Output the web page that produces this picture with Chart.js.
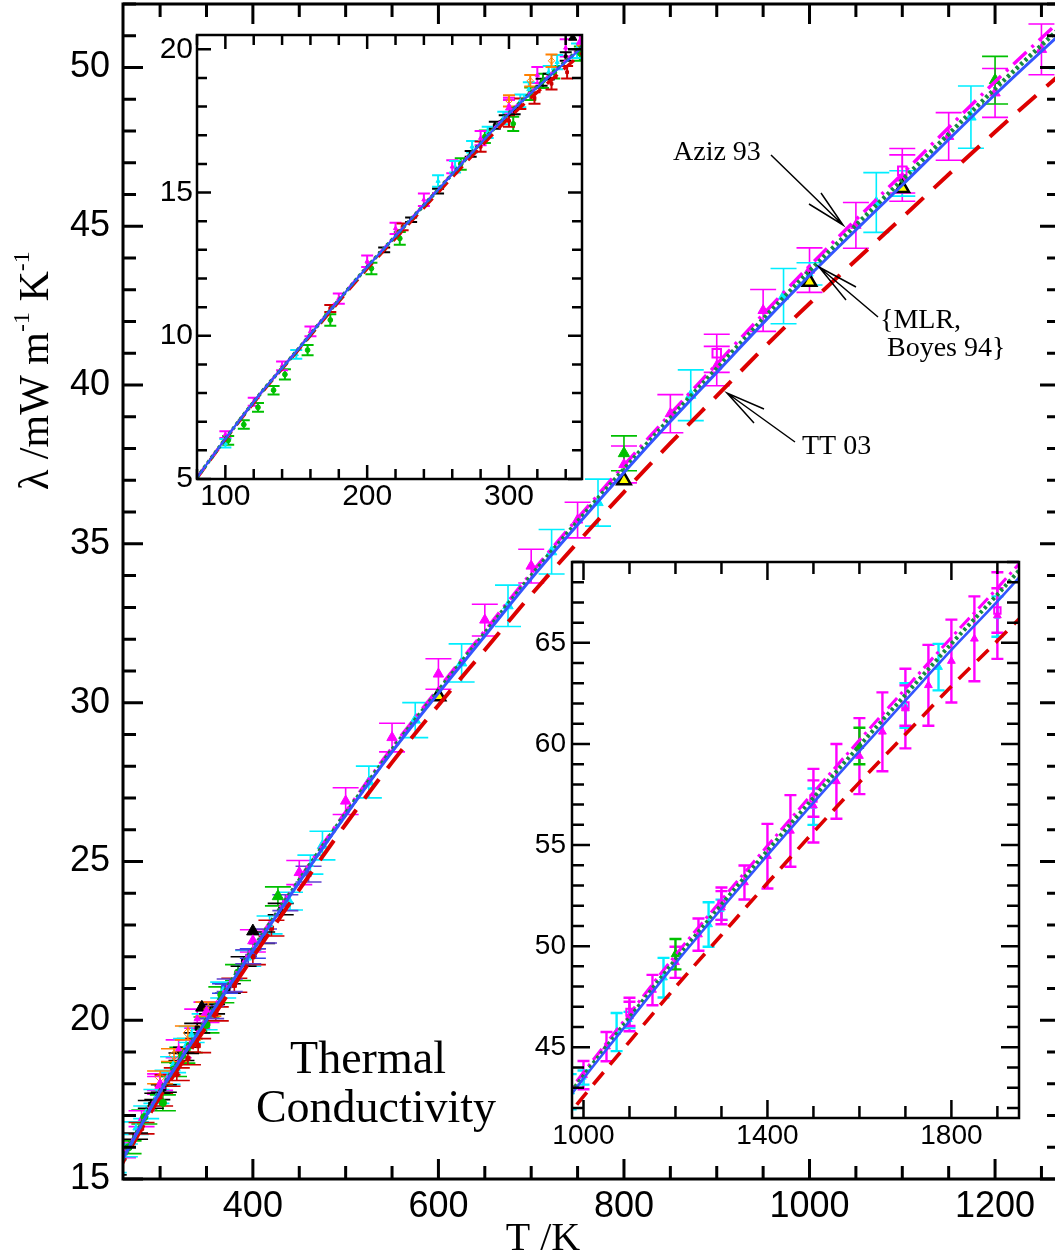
<!DOCTYPE html>
<html>
<head>
<meta charset="utf-8">
<script src="https://cdn.jsdelivr.net/npm/chart.js@4.4.1/dist/chart.umd.min.js"></script>
<style>
  html, body { margin: 0; padding: 0; background: #fff; overflow: hidden; }
  #wrap { position: relative; width: 1055px; height: 1258px; overflow: hidden; }
  canvas { position: absolute; }
  #main { left: 0; top: 0; }
  #low { left: 130px; top: 20px; }
  #high { left: 510px; top: 540px; }
</style>
</head>
<body>
<div id="wrap">
  <canvas id="main" width="1070" height="1258"></canvas>
  <canvas id="low" width="470" height="500"></canvas>
  <canvas id="high" width="530" height="620"></canvas>
</div>
<script>
// theory curves: T / K and lambda / mW m^-1 K^-1
const tCurve  = [80, 100, 125, 150, 175, 200, 225, 250, 275, 300, 350, 400, 450, 500, 550, 600, 650, 700, 750, 800, 850, 900, 950, 1000, 1100, 1200, 1300, 1400, 1500, 1600, 1700, 1800, 1900, 1950];
const lamThis = [5.05, 6.4, 8.0, 9.45, 10.95, 12.4, 13.75, 15.1, 16.45, 17.75, 20.0, 22.2, 24.35, 26.45, 28.45, 30.3, 32.1, 33.9, 35.6, 37.25, 38.85, 40.4, 41.95, 43.45, 46.3, 49.15, 51.85, 54.5, 57.1, 59.65, 62.15, 64.65, 67.05, 68.3];
const lamMLR  = [5.05, 6.4, 8.0, 9.45, 10.95, 12.4, 13.75, 15.1, 16.46, 17.77, 20.03, 22.24, 24.4, 26.5, 28.51, 30.37, 32.18, 33.99, 35.7, 37.35, 38.96, 40.52, 42.08, 43.59, 46.46, 49.33, 52.05, 54.72, 57.34, 59.91, 62.43, 64.96, 67.39, 68.65];
const lamAziz = [5.05, 6.4, 8.0, 9.46, 10.96, 12.41, 13.76, 15.12, 16.47, 17.78, 20.05, 22.27, 24.44, 26.56, 28.58, 30.44, 32.26, 34.08, 35.8, 37.47, 39.09, 40.66, 42.23, 43.75, 46.65, 49.55, 52.28, 54.96, 57.6, 60.19, 62.73, 65.27, 67.71, 68.98];
const lamTT03 = [5.03, 6.38, 7.97, 9.42, 10.9, 12.34, 13.67, 15.0, 16.33, 17.6, 19.8, 21.99, 24.11, 26.17, 28.12, 29.92, 31.66, 33.4, 35.04, 36.63, 38.17, 39.66, 41.15, 42.57, 45.28, 47.97, 50.55, 53.12, 55.64, 58.1, 60.48, 62.85, 65.1, 66.25];

// measurements
const tMagTri   = [300, 350, 400, 450, 500, 550, 600, 650, 700, 750, 800, 850, 900, 950, 1000, 1050, 1100, 1150, 1200, 1250, 1300, 1350, 1400, 1450, 1500, 1550, 1600, 1650, 1700, 1750, 1800, 1850, 1900];
const lamMagTri = [17.95, 20.25, 22.5, 24.65, 26.9, 28.9, 30.9, 32.6, 34.3, 35.75, 37.5, 39.1, 40.6, 42.35, 43.62, 45.03, 46.52, 47.83, 49.2, 50.57, 51.9, 53.15, 54.45, 55.7, 56.95, 58.15, 59.4, 60.6, 61.75, 62.9, 64.1, 65.2, 66.35];
const errMagTri = [0.28, 0.32, 0.35, 0.38, 0.42, 0.45, 0.48, 0.5, 0.53, 0.56, 0.58, 0.6, 0.62, 0.66, 0.7, 0.72, 0.73, 0.75, 0.77, 0.8, 0.82, 0.84, 1.6, 1.77, 1.82, 1.85, 1.88, 1.95, 1.97, 2.0, 2.05, 2.1, 2.14];

const tCyanTri   = [475, 525, 575, 625, 675, 722, 772, 872, 972, 1072, 1174, 1272, 1772];
const lamCyanTri = [25.5, 27.5, 29.45, 31.25, 33.05, 34.75, 36.3, 39.68, 42.8, 45.75, 48.44, 51.07, 63.8];
const errCyanTri = [0.45, 0.5, 0.55, 0.6, 0.65, 0.7, 0.74, 0.8, 0.87, 0.94, 0.98, 1.1, 1.15];

const tCyanSq   = [1000, 1100, 1300, 1500, 1700, 1900];
const lamCyanSq = [43.5, 46.35, 51.8, 56.9, 61.9, 66.3];
const errCyanSq = [0.35, 0.4, 0.5, 0.9, 1.1, 1.0];

const tMagSq   = [900, 1100, 1300, 1500, 1700, 1900];
const lamMagSq = [41.0, 46.75, 52.1, 57.3, 61.9, 66.6];
const errMagSq = [0.6, 0.7, 0.8, 0.9, 1.0, 1.1];

const tGreenTri   = [427, 800, 1200, 1600];
const lamGreenTri = [23.9, 37.85, 49.6, 59.9];
const errGreenTri = [0.3, 0.55, 0.75, 0.9];

const tYelTri   = [600, 800, 1000, 1100];
const lamYelTri = [30.2, 37.0, 43.25, 46.2];
const tBlkTri   = [345, 400];
const lamBlkTri = [20.4, 22.8];

const tGreenDot   = [102, 113, 123, 134, 142, 158, 174, 203, 223, 266, 283, 303, 315, 324, 332, 350, 366, 384];
const lamGreenDot = [6.35, 6.9, 7.5, 8.1, 8.65, 9.5, 10.55, 12.35, 13.4, 16.0, 16.95, 17.4, 18.45, 18.9, 19.2, 19.85, 20.8, 21.5];
const errGreenDot = [0.15, 0.15, 0.15, 0.15, 0.18, 0.18, 0.2, 0.2, 0.22, 0.2, 0.22, 0.25, 0.22, 0.25, 0.22, 0.25, 0.25, 0.25];

const tMagLow   = [100, 120, 140, 160, 180, 200, 220, 240, 260, 280, 300, 320, 340];
const lamMagLow = [6.55, 7.7, 8.95, 10.15, 11.3, 12.6, 13.75, 14.75, 15.9, 16.9, 18.05, 19.1, 20.05];
const errMagLow = [0.12, 0.14, 0.15, 0.17, 0.18, 0.2, 0.2, 0.22, 0.23, 0.25, 0.26, 0.28, 0.3];

const tCyanLow   = [100, 150, 250, 262, 274, 285, 296, 308, 314, 328, 334, 348, 368, 395, 418, 440, 462];
const lamCyanLow = [6.25, 9.35, 15.4, 15.9, 16.6, 17.1, 17.6, 18.2, 18.6, 19.2, 19.55, 19.95, 20.95, 21.95, 23.0, 23.75, 24.9];
const errCyanLow = [0.15, 0.15, 0.2, 0.2, 0.2, 0.2, 0.22, 0.22, 0.25, 0.22, 0.25, 0.25, 0.25, 0.25, 0.28, 0.28, 0.3];

const tRedLow   = [174, 225, 280, 300, 308, 318, 330, 341, 360, 380, 400, 420];
const lamRedLow = [10.95, 13.8, 16.6, 17.5, 18.1, 18.3, 18.8, 19.2, 20.2, 21.1, 22.0, 22.9];
const errRedLow = [0.12, 0.12, 0.18, 0.2, 0.18, 0.2, 0.2, 0.22, 0.22, 0.22, 0.25, 0.25];

const tBlkLow   = [212, 231, 250, 273, 290, 297, 304, 323, 328, 340, 356, 373, 390, 410, 430];
const lamBlkLow = [13.0, 14.05, 15.05, 16.35, 17.35, 17.6, 17.85, 18.85, 19.05, 19.75, 20.35, 21.0, 21.85, 22.6, 23.5];
const errBlkLow = [0.08, 0.08, 0.08, 0.1, 0.12, 0.1, 0.12, 0.12, 0.1, 0.15, 0.15, 0.15, 0.15, 0.18, 0.18];

const tOrgLow   = [300, 315, 330, 352];
const lamOrgLow = [18.2, 18.9, 19.6, 20.35];
const errOrgLow = [0.2, 0.2, 0.22, 0.22];

const tPurLow   = [355, 375, 395, 412, 435, 460];
const lamPurLow = [20.25, 21.1, 22.0, 22.65, 23.7, 24.6];
const errPurLow = [0.2, 0.2, 0.22, 0.22, 0.25, 0.25];

const tBlueSq   = [370, 400];
const lamBlueSq = [21.0, 22.1];
const errBlueSq = [0.15, 0.15];

// tick labels
const xTicksMain = [400, 600, 800, 1000, 1200];
const yTicksMain = [15, 20, 25, 30, 35, 40, 45, 50];
const xTicksLow  = [100, 200, 300];
const yTicksLow  = [5, 10, 15, 20];
const xTicksHigh = [1000, 1400, 1800];
const yTicksHigh = [45, 50, 55, 60, 65];

const SANS = '"Liberation Sans", Arial, sans-serif';
const SERIF = '"Liberation Serif", "Times New Roman", serif';
const xy = (t, l) => t.map((v, i) => ({x: v, y: l[i]}));

// white plot area, box frame and inward ticks on all four sides
const frameTicks = {
  id: 'frameTicks',
  beforeDraw(chart) {
    const {ctx, chartArea: a} = chart;
    ctx.save();
    ctx.fillStyle = '#fff';
    ctx.fillRect(a.left, a.top, a.right - a.left, a.bottom - a.top);
    ctx.restore();
  },
  afterDraw(chart, args, o) {
    const {ctx, chartArea: a, scales: {x, y}} = chart;
    ctx.save();
    ctx.strokeStyle = '#000';
    ctx.lineWidth = o.width;
    ctx.beginPath();
    for (let v = Math.ceil(x.min / o.xStep) * o.xStep; v <= x.max + 1e-6; v += o.xStep) {
      const vv = Math.round(v * 1000) / 1000;
      const len = o.xMajor.includes(vv) ? o.major : o.minor;
      const p = x.getPixelForValue(vv);
      ctx.moveTo(p, a.bottom); ctx.lineTo(p, a.bottom - len);
      ctx.moveTo(p, a.top); ctx.lineTo(p, a.top + len);
    }
    for (let v = Math.ceil(y.min / o.yStep) * o.yStep; v <= y.max + 1e-6; v += o.yStep) {
      const vv = Math.round(v * 1000) / 1000;
      const len = o.yMajor.includes(vv) ? o.major : o.minor;
      const p = y.getPixelForValue(vv);
      ctx.moveTo(a.left, p); ctx.lineTo(a.left + len, p);
      ctx.moveTo(a.right, p); ctx.lineTo(a.right - len, p);
    }
    ctx.stroke();
    ctx.strokeRect(a.left, a.top, a.right - a.left, a.bottom - a.top);
    ctx.restore();
  }
};

// vertical error bars with caps, read from dataset.errs
const errorBars = {
  id: 'errorBars',
  beforeDatasetsDraw(chart, args, o) {
    const {ctx, chartArea: a, scales: {x, y}} = chart;
    ctx.save();
    ctx.beginPath();
    ctx.rect(a.left, a.top, a.right - a.left, a.bottom - a.top);
    ctx.clip();
    ctx.lineWidth = o.width;
    chart.data.datasets.forEach(ds => {
      if (!ds.errs) return;
      ctx.strokeStyle = ds.errColor || ds.borderColor;
      const c = o.cap / 2;
      ctx.beginPath();
      ds.data.forEach((p, j) => {
        const px = x.getPixelForValue(p.x);
        const y1 = y.getPixelForValue(p.y - ds.errs[j]);
        const y2 = y.getPixelForValue(p.y + ds.errs[j]);
        ctx.moveTo(px, y1); ctx.lineTo(px, y2);
        ctx.moveTo(px - c, y1); ctx.lineTo(px + c, y1);
        ctx.moveTo(px - c, y2); ctx.lineTo(px + c, y2);
      });
      ctx.stroke();
    });
    ctx.restore();
  }
};

// axis titles, labels and arrows of the big panel
const notes = {
  id: 'notes',
  afterDraw(chart) {
    if (chart.canvas.id !== 'main') return;
    const ctx = chart.ctx;
    ctx.save();
    ctx.fillStyle = '#000';
    ctx.strokeStyle = '#000';
    ctx.textBaseline = 'alphabetic';
    const text = (s, x, y, size, align) => {
      ctx.font = size + 'px ' + SERIF;
      ctx.textAlign = align;
      ctx.fillText(s, x, y);
    };
    text('T /K', 543, 1250, 40, 'center');
    text('Thermal', 368, 1073, 46, 'center');
    text('Conductivity', 376, 1122, 46, 'center');
    text('Aziz 93', 673, 160, 28, 'left');
    text('{MLR,', 880, 328, 28, 'left');
    text('Boyes 94}', 887, 356, 28, 'left');
    text('TT 03', 802, 454, 28, 'left');

    // y title with superscripts, rotated
    ctx.save();
    ctx.translate(48, 490);
    ctx.rotate(-Math.PI / 2);
    ctx.textAlign = 'left';
    let cx = 0;
    [['λ /mW m', 42, 0], ['-1', 24, -19], [' K', 42, 0], ['-1', 24, -19]].forEach(([s, size, dy]) => {
      ctx.font = size + 'px ' + SERIF;
      ctx.fillText(s, cx, dy);
      cx += ctx.measureText(s).width;
    });
    ctx.restore();

    ctx.lineWidth = 1.5;
    const arrow = (x0, y0, x1, y1, h1x, h1y, h2x, h2y) => {
      ctx.beginPath();
      ctx.moveTo(x0, y0); ctx.lineTo(x1, y1);
      ctx.moveTo(h1x, h1y); ctx.lineTo(x1, y1); ctx.lineTo(h2x, h2y);
      ctx.stroke();
    };
    arrow(771, 155, 843, 225, 809, 204, 821, 193);
    arrow(878, 317, 819, 267, 856, 287, 846, 300);
    arrow(795, 442, 727, 393, 764, 409, 754, 423);
    ctx.restore();
  }
};

function dataSets(k) {
  const L = (l, st) => Object.assign({data: xy(tCurve, l), showLine: true, pointRadius: 0, borderCapStyle: 'butt', cubicInterpolationMode: 'monotone'}, st);
  const P = (t, l, e, st) => Object.assign({data: xy(t, l), errs: e, order: 5, showLine: false, pointRadius: k.r, pointBorderWidth: 1}, st);
  const mag = '#ff00ff', cyan = '#00eeff', grn = '#00c000';
  const sets = [
    L(lamThis, {borderColor: '#3355ff', borderWidth: k.lw, order: 0}),
    L(lamMLR, {borderColor: '#178a3e', borderWidth: k.lw + 1.5, borderDash: k.dMLR, order: 1}),
    L(lamAziz, {borderColor: mag, borderWidth: k.lw + 0.5, borderDash: k.dAziz, order: 2}),
    L(lamTT03, {borderColor: '#dd0000', borderWidth: k.lw + 1, borderDash: k.dTT, order: 3}),
    P(tMagTri, lamMagTri, errMagTri, {pointStyle: 'triangle', backgroundColor: mag, borderColor: mag}),
    P(tCyanTri, lamCyanTri, errCyanTri, {pointStyle: 'triangle', backgroundColor: cyan, borderColor: cyan}),
    P(tCyanSq, lamCyanSq, errCyanSq, {pointStyle: 'triangle', pointRadius: k.r * 0.7, backgroundColor: cyan, borderColor: cyan}),
    P(tMagSq, lamMagSq, errMagSq, {pointStyle: 'rect', backgroundColor: 'rgba(0,0,0,0)', borderColor: mag, pointBorderWidth: 2}),
    P(tGreenTri, lamGreenTri, errGreenTri, {pointStyle: 'triangle', pointRadius: k.r * 1.1, backgroundColor: grn, borderColor: grn}),
    P(tGreenDot, lamGreenDot, errGreenDot, {pointStyle: 'circle', pointRadius: k.r * 0.6, backgroundColor: grn, borderColor: grn}),
    P(tMagLow, lamMagLow, errMagLow, {pointStyle: 'triangle', pointRadius: k.r * 0.6, backgroundColor: mag, borderColor: mag}),
    P(tCyanLow, lamCyanLow, errCyanLow, {pointStyle: 'triangle', pointRadius: k.r * 0.6, backgroundColor: cyan, borderColor: cyan}),
    P(tRedLow, lamRedLow, errRedLow, {pointStyle: 'rect', pointRadius: k.r * 0.5, backgroundColor: '#cc0000', borderColor: '#cc0000'}),
    P(tBlkLow, lamBlkLow, errBlkLow, {pointStyle: 'rect', pointRadius: k.r * 0.5, backgroundColor: '#000', borderColor: '#000'}),
    P(tOrgLow, lamOrgLow, errOrgLow, {pointStyle: 'rectRot', pointRadius: k.r * 0.8, backgroundColor: 'rgba(0,0,0,0)', borderColor: '#ff8000'}),
    P(tPurLow, lamPurLow, errPurLow, {pointStyle: 'rect', pointRadius: k.r * 0.6, backgroundColor: '#6040d0', borderColor: '#6040d0'}),
    P(tBlueSq, lamBlueSq, errBlueSq, {pointStyle: 'rect', pointRadius: k.r * 0.8, backgroundColor: '#3344ee', borderColor: '#3344ee'}),
    P(tBlkTri, lamBlkTri, null, {pointStyle: 'triangle', pointRadius: k.r * 1.2, backgroundColor: '#000', borderColor: '#000'})
  ];
  if (k.yellow) {
    sets.push(P(tYelTri, lamYelTri, null, {pointStyle: 'triangle', pointRadius: k.r * 1.3, backgroundColor: '#ffff00', borderColor: '#000', pointBorderWidth: 2.5, order: 4}));
  }
  return sets;
}

function makeChart(id, c) {
  return new Chart(document.getElementById(id), {
    type: 'scatter',
    data: {datasets: dataSets(c.k)},
    plugins: [frameTicks, errorBars, notes],
    options: {
      responsive: false,
      animation: false,
      events: [],
      layout: {autoPadding: false, padding: c.pad},
      plugins: {
        legend: {display: false},
        tooltip: {enabled: false},
        frameTicks: c.frame,
        errorBars: {width: c.k.ew, cap: c.k.cap}
      },
      scales: {
        x: {
          type: 'linear', min: c.xMin, max: c.xMax,
          grid: {display: false, drawTicks: false}, border: {display: false},
          afterBuildTicks: s => { s.ticks = c.xTicks.map(v => ({value: v})); },
          afterFit: s => { s.height = c.xH; s.paddingLeft = 0; s.paddingRight = 0; },
          ticks: {autoSkip: false, maxRotation: 0, padding: c.xPad, color: '#000', font: {family: SANS, size: c.font}, callback: v => String(v)}
        },
        y: {
          type: 'linear', min: c.yMin, max: c.yMax,
          grid: {display: false, drawTicks: false}, border: {display: false},
          afterBuildTicks: s => { s.ticks = c.yTicks.map(v => ({value: v})); },
          afterFit: s => { s.width = c.yW; s.paddingTop = 0; s.paddingBottom = 0; },
          ticks: {autoSkip: false, padding: c.yPad, color: '#000', font: {family: SANS, size: c.font}, callback: v => String(v)}
        }
      }
    }
  });
}

makeChart('main', {
  k: {r: 6, lw: 3, cap: 26, ew: 1.6, dMLR: [3, 3], dAziz: [18, 7, 3, 7], dTT: [24, 14], yellow: true},
  pad: {left: 0, top: 4, right: 10, bottom: 0},
  xMin: 260, xMax: 1270, yMin: 15, yMax: 52,
  xTicks: xTicksMain, yTicks: yTicksMain,
  xH: 79, yW: 123, xPad: 6, yPad: 13, font: 36,
  frame: {width: 3, major: 20, minor: 13, xStep: 50, yStep: 1, xMajor: xTicksMain, yMajor: yTicksMain}
});

makeChart('low', {
  k: {r: 4, lw: 2.2, cap: 12, ew: 2, dMLR: [3, 3], dAziz: [12, 5, 2, 5], dTT: [14, 8], yellow: false},
  pad: {left: 0, top: 15, right: 18, bottom: 0},
  xMin: 80, xMax: 351.5, yMin: 5, yMax: 20.5,
  xTicks: xTicksLow, yTicks: yTicksLow,
  xH: 41, yW: 67, xPad: 0, yPad: 4, font: 30,
  frame: {width: 2.5, major: 14, minor: 10, xStep: 20, yStep: 1, xMajor: xTicksLow, yMajor: yTicksLow}
});

makeChart('high', {
  k: {r: 4.5, lw: 2.6, cap: 12, ew: 2.4, dMLR: [3, 3], dAziz: [14, 5, 3, 5], dTT: [16, 10], yellow: false},
  pad: {left: 0, top: 22, right: 21, bottom: 0},
  xMin: 975, xMax: 1947, yMin: 41.5, yMax: 69,
  xTicks: xTicksHigh, yTicks: yTicksHigh,
  xH: 42, yW: 62, xPad: 1, yPad: 6, font: 28,
  frame: {width: 2.5, major: 18, minor: 12, xStep: 100, yStep: 1, xMajor: xTicksHigh, yMajor: yTicksHigh}
});
</script>
</body>
</html>
